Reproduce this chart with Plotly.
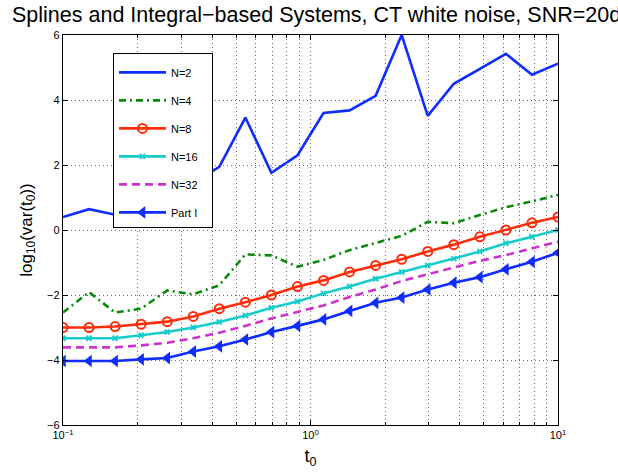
import plotly.graph_objects as go

# Time offsets t0 (log-spaced sample points)
t0 = [0.1, 0.1274, 0.1624, 0.2069, 0.2637, 0.3360, 0.4281, 0.5456, 0.6952, 0.8859,
      1.1288, 1.4384, 1.8330, 2.3357, 2.9764, 3.7927, 4.8329, 6.1585, 7.8476, 10.0]

# log10 of the variance for each system
n2 = [0.40, 0.64, 0.47, 0.90, 1.25, 1.45, 1.94, 3.46, 1.76, 2.30,
      3.60, 3.68, 4.13, 6.00, 3.51, 4.50, 4.96, 5.42, 4.78, 5.12]
n4 = [-2.54, -1.91, -2.54, -2.42, -1.86, -1.98, -1.70, -0.75, -0.78, -1.13,
      -0.92, -0.62, -0.40, -0.18, 0.25, 0.21, 0.46, 0.70, 0.88, 1.08]
n8 = [-3.00, -3.00, -2.97, -2.90, -2.82, -2.66, -2.42, -2.22, -2.00, -1.74,
      -1.55, -1.29, -1.09, -0.90, -0.66, -0.45, -0.21, 0.00, 0.22, 0.40]
n16 = [-3.33, -3.33, -3.33, -3.24, -3.14, -3.00, -2.83, -2.63, -2.39, -2.20,
       -1.95, -1.74, -1.50, -1.29, -1.09, -0.88, -0.66, -0.41, -0.21, 0.00]
n32 = [-3.61, -3.62, -3.61, -3.55, -3.47, -3.33, -3.16, -2.95, -2.72, -2.52,
       -2.32, -2.06, -1.83, -1.57, -1.36, -1.16, -0.95, -0.77, -0.57, -0.36]
part1 = [-4.03, -4.03, -4.03, -3.98, -3.94, -3.74, -3.58, -3.37, -3.14, -2.95,
         -2.75, -2.49, -2.24, -2.08, -1.83, -1.62, -1.45, -1.21, -0.98, -0.70]

series_names = ["N=2", "N=4", "N=8", "N=16", "N=32", "Part I"]

x_tickvals = [0.1, 1, 10]
x_ticktext = ["10<sup>\u22121</sup>", "10<sup>0</sup>", "10<sup>1</sup>"]
y_tickvals = [-6, -4, -2, 0, 2, 4, 6]
y_ticktext = ["\u22126", "\u22124", "\u22122", "0", "2", "4", "6"]
minor_vals = [0.2, 0.3, 0.4, 0.5, 0.6, 0.7, 0.8, 0.9, 2, 3, 4, 5, 6, 7, 8, 9]

BLUE = "#0f2dff"
GREEN = "#0a8a0a"
RED = "#ff2d0a"
CYAN = "#19cccc"
MAGENTA = "#cc33cc"
GRID = "#6a6a6a"
GRID_DASH = "1px,3px"

styles = [
    dict(line=dict(color=BLUE, width=2.6), mode="lines"),
    dict(line=dict(color=GREEN, width=2.6, dash="7px,4px,2px,4px"), mode="lines"),
    dict(line=dict(color=RED, width=2.6), mode="lines+markers",
         marker=dict(symbol="circle-open", size=9, color=RED, line=dict(width=2, color=RED))),
    dict(line=dict(color=CYAN, width=2.6), mode="lines+markers",
         marker=dict(symbol="x-thin", size=5, color=CYAN, line=dict(width=2, color=CYAN))),
    dict(line=dict(color=MAGENTA, width=2.6, dash="8px,5px"), mode="lines"),
    dict(line=dict(color=BLUE, width=2.6), mode="lines+markers",
         marker=dict(symbol="triangle-left", size=11, color=BLUE)),
]

fig = go.Figure()
for name, ys, st in zip(series_names, [n2, n4, n8, n16, n32, part1], styles):
    # trailing no-break spaces give the legend box some room on the right
    fig.add_trace(go.Scatter(x=t0, y=ys, name=name + "\u00a0" * 3, legendgroup=name, **st))

FONT = "Liberation Sans, Arial, Helvetica, sans-serif"

fig.update_layout(
    width=618, height=475,
    margin=dict(l=63, r=60, t=35, b=50),
    paper_bgcolor="white", plot_bgcolor="white",
    font=dict(family=FONT, size=11, color="black"),
    title=dict(text="Splines and Integral\u2212based Systems, CT white noise, SNR=20dB",
               font=dict(size=21.5, family=FONT, color="black"),
               xref="container", x=12 / 618, xanchor="left",
               yref="container", y=1 - 14 / 475, yanchor="middle"),
    showlegend=True,
    legend=dict(x=(113 - 63) / 495, y=(425 - 53) / 390, xanchor="left", yanchor="top",
                bgcolor="white", bordercolor="black", borderwidth=1,
                font=dict(size=11, family=FONT), tracegroupgap=9,
                itemwidth=47,
                title=dict(text="\u00a0", font=dict(size=3))),
    xaxis=dict(type="log", range=[-1, 1],
               tickmode="array", tickvals=x_tickvals, ticktext=x_ticktext,
               ticks="inside", ticklen=5, tickcolor="black",
               showline=True, linecolor="black", linewidth=1.3, mirror="allticks",
               showgrid=True, gridcolor=GRID, griddash=GRID_DASH, gridwidth=1,
               minor=dict(tickmode="array", tickvals=minor_vals, ticks="inside", ticklen=3,
                          tickcolor="black", showgrid=True, gridcolor=GRID,
                          griddash=GRID_DASH, gridwidth=1),
               zeroline=False,
               title=dict(text="t<sub>0</sub>", font=dict(size=18, family=FONT), standoff=9),
               tickfont=dict(size=11, family=FONT)),
    yaxis=dict(range=[-6, 6], tickmode="array", tickvals=y_tickvals, ticktext=y_ticktext,
               ticks="inside", ticklen=5, tickcolor="black",
               showline=True, linecolor="black", linewidth=1.3, mirror="allticks",
               showgrid=True, gridcolor=GRID, griddash=GRID_DASH, gridwidth=1,
               zeroline=False,
               title=dict(text="log<sub>10</sub>(var(t<sub>0</sub>))",
                          font=dict(size=17, family=FONT), standoff=10),
               tickfont=dict(size=11, family=FONT)),
)

fig.write_html("out.html")
